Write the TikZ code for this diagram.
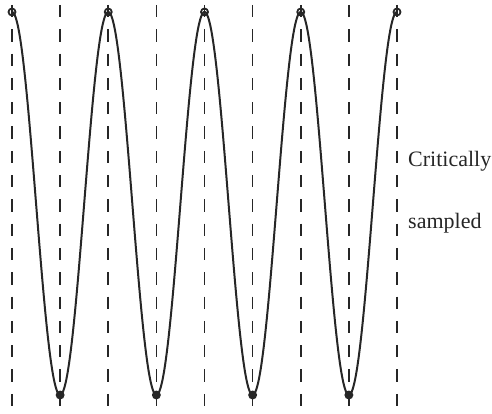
\documentclass[tikz,border=0pt]{standalone}
\usepackage{fontspec}
\setmainfont{Liberation Serif}
\begin{document}
\begin{tikzpicture}[x=1pt,y=1pt,
  dashline/.style={line width=1.7pt, dash pattern=on 12.3pt off 12pt, dash phase=19.3pt, black!85},
  wave/.style={line width=2pt, black!85},
  samp/.style={circle, draw=black!85, line width=1.8pt, inner sep=0pt, minimum size=7pt},
  lbl/.style={font=\fontsize{22}{24}\selectfont, anchor=base west, inner sep=0pt, text=black!85}]
\useasboundingbox (0,0) rectangle (492,414);
\foreach \i in {0,...,8}{
  \pgfmathsetmacro{\xx}{12+48.125*\i}
  \draw[dashline] (\xx,414) -- (\xx,0);
}
\draw[wave] plot[domain=12:397, samples=400, smooth] (\x, {210.5+191.5*cos(3.74026*(\x-12))});
\foreach \i in {0,...,4}{
  \pgfmathsetmacro{\xx}{12+96.25*\i}
  \node[samp] (top\i) at (\xx,402) {};
}
\foreach \i in {0,...,3}{
  \pgfmathsetmacro{\xx}{60.125+96.25*\i}
  \node[samp, fill=black!85] (bot\i) at (\xx,19) {};
}
\node[lbl] (crit) at (408,247) {Critically};
\node[lbl] (samp) at (408,185) {sampled};
\end{tikzpicture}
\end{document}
